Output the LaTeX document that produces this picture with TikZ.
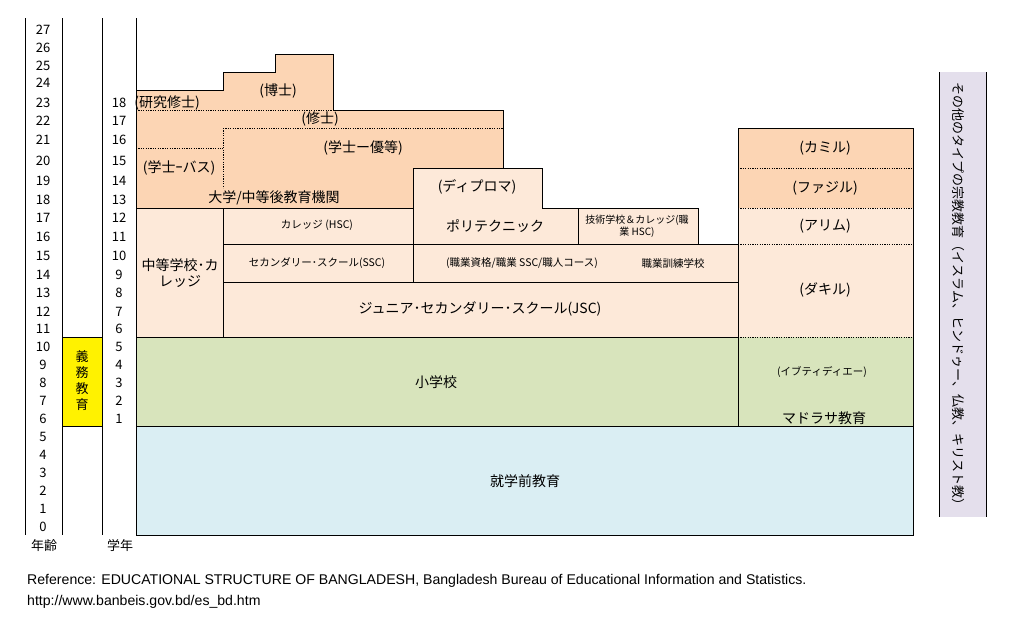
\documentclass[tikz,border=0pt]{standalone}
\usepackage{fontspec}
\setmainfont{Noto Sans CJK JP}
\newfontfamily\reffont{Liberation Sans}
\definecolor{peachD}{HTML}{FCD5B4}
\definecolor{peachL}{HTML}{FDE9D9}
\definecolor{greenL}{HTML}{D8E4BC}
\definecolor{blueL}{HTML}{DAEEF3}
\definecolor{purpleL}{HTML}{E4DFEC}
\tikzset{
  box/.style={draw=black, line width=1pt},
  dots/.style={line width=1pt, dash pattern=on 1.2pt off 1.2pt},
  lbl/.style={inner sep=0pt, font=\fontsize{14}{16}\selectfont},
  sm/.style={inner sep=0pt, font=\fontsize{10.5}{12}\selectfont, align=center},
  num/.style={inner sep=0pt, font=\fontsize{13}{15}\selectfont},
  reftext/.style={inner sep=0pt, anchor=base west, font=\reffont\fontsize{14.1}{16}\selectfont},
}
\begin{document}
\begin{tikzpicture}[x=1pt,y=-1pt]
\useasboundingbox (0,0) rectangle (1010,625);
% fills
\fill[purpleL] (939,72) rectangle (986,517);
\draw[line width=1pt] (939,72) -- (939,517) (986,72) -- (986,517);
\filldraw[box, fill=peachD] (136,208) -- (136,90) -- (223,90) -- (223,72) -- (275,72) -- (275,54) -- (333,54) -- (333,110) -- (503,110) -- (503,168) -- (413,168) -- (413,208) -- cycle;
\draw[dots] (136,110) -- (333,110);
\draw[dots] (223,128) -- (503,128);
\draw[dots] (223,128) -- (223,188);
\draw[dots] (136,148) -- (223,148);
\filldraw[box, fill=peachL] (413,168) -- (542,168) -- (542,208) -- (578,208) -- (578,244) -- (413,244) -- cycle;
\filldraw[box, fill=peachL] (578,208) rectangle (698,244);
\filldraw[box, fill=peachL] (136,208) rectangle (223,337);
\filldraw[box, fill=peachL] (223,208) rectangle (413,244);
\filldraw[box, fill=peachL] (223,244) rectangle (413,282);
\filldraw[box, fill=peachL] (413,244) rectangle (738,282);
\filldraw[box, fill=peachL] (223,282) rectangle (738,337);
\filldraw[box, fill=greenL] (136,337) rectangle (738,426);
\filldraw[box, fill=blueL] (136,426) rectangle (913,535);
% right column
\fill[peachD] (738,128) rectangle (913,208);
\fill[peachL] (738,208) rectangle (913,337);
\fill[greenL] (738,337) rectangle (913,426);
\draw[box] (738,128) rectangle (913,426);
\draw[dots] (738,168) -- (913,168);
\draw[dots] (738,208) -- (913,208);
\draw[dots] (738,244) -- (913,244);
\draw[dots] (738,337) -- (913,337);
% axes
\filldraw[box, fill=yellow] (62,337) rectangle (102,426);
\draw[line width=1pt] (25,18) -- (25,535) (62,18) -- (62,535) (102,18) -- (102,535) (136,18) -- (136,535);
% ages
\foreach \a/\yy in {27/30,26/48,25/66,24/83,23/103,22/121,21/140,20/161,19/181,18/200,17/218,16/237,15/256,14/275,13/293,12/312,11/329,10/347,9/365,8/383,7/401,6/419,5/437,4/455,3/473,2/491,1/509,0/527}
  \node[num] (age\a) at (43,\yy) {\a};
\foreach \g/\yy in {18/103,17/121,16/140,15/161,14/181,13/200,12/218,11/237,10/256,9/275,8/293,7/312,6/329,5/347,4/365,3/383,2/401,1/419}
  \node[num] (gr\g) at (119,\yy) {\g};
\node[num] (agelbl) at (44,546) {年齢};
\node[num] (grlbl) at (120,546) {学年};
\node[inner sep=0pt, font=\fontsize{13}{16}\selectfont, align=center] (gimu) at (82,381) {義\\務\\教\\育};
% university
\node[lbl] (hakushi) at (278,91) {(博士)};
\node[lbl] (kenkyu) at (167,103) {(研究修士)};
\node[lbl] (shushi) at (320,119) {(修士)};
\node[lbl] (yuto) at (363,148) {(学士ー優等)};
\node[lbl] (pass) at (179,168) {(学士ｰバス)};
\node[lbl] (daigaku) at (274,198) {大学/中等後教育機関};
\node[lbl] (diploma) at (477,187) {(ディプロマ)};
\node[lbl] (poly) at (495,226) {ポリテクニック};
\node[sm, font=\fontsize{10}{12}\selectfont] (tech) at (637,226) {技術学校＆カレッジ(職\\業 HSC)};
\node[lbl, align=center, font=\fontsize{14}{16}\selectfont] (chuto) at (180,273) {中等学校･カ\\レッジ};
\node[sm] (hsc) at (317,225) {カレッジ (HSC)};
\node[sm] (ssc) at (317,263) {セカンダリー･スクール(SSC)};
\node[sm] (voc) at (522,263) {(職業資格/職業 SSC/職人コース)};
\node[sm] (vtc) at (673,263) {職業訓練学校};
\node[lbl] (jsc) at (480,309) {ジュニア･セカンダリー･スクール(JSC)};
\node[lbl] (primary) at (436,382) {小学校};
\node[lbl] (pre) at (525,481) {就学前教育};
% madrasa
\node[lbl] (kamil) at (825,148) {(カミル)};
\node[lbl] (fazil) at (825,188) {(ファジル)};
\node[lbl] (alim) at (825,226) {(アリム)};
\node[lbl] (dakhil) at (825,290) {(ダキル)};
\node[sm] (ebt) at (822,372) {(イブティディエー)};
\node[lbl] (madrasa) at (824,418) {マドラサ教育};
\node[inner sep=0pt, font=\fontsize{13}{15}\selectfont, rotate=-90] (other) at (958,297) {その他のタイプの宗教教育（イスラム、ヒンドゥー、仏教、キリスト教）};
% reference
\node[reftext] (ref1) at (27,584) {Reference: EDUCATIONAL STRUCTURE OF BANGLADESH, Bangladesh Bureau of Educational Information and Statistics.};
\node[reftext] (ref2) at (27,605) {http://www.banbeis.gov.bd/es\_bd.htm};
\end{tikzpicture}
\end{document}
